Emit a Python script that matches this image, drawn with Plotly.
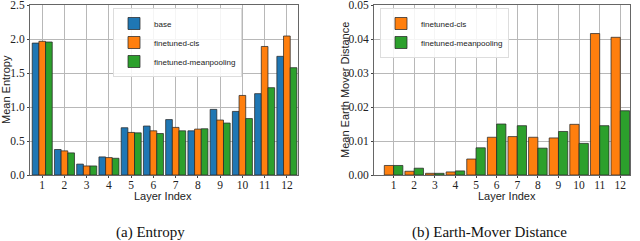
import plotly.graph_objects as go

layers = list(range(1, 13))
layer_labels = [str(i) for i in layers]

entropy_base = [1.94, 0.375, 0.16, 0.266, 0.695, 0.72, 0.815, 0.65, 0.965, 0.935, 1.196, 1.745]
entropy_cls = [1.966, 0.355, 0.133, 0.256, 0.626, 0.65, 0.70, 0.675, 0.808, 1.17, 1.89, 2.044]
entropy_mp = [1.956, 0.325, 0.133, 0.246, 0.62, 0.61, 0.65, 0.68, 0.764, 0.83, 1.284, 1.578]

emd_cls = [0.0028, 0.0011, 0.0005, 0.0009, 0.0047, 0.0111, 0.0113, 0.0111, 0.0109, 0.0149, 0.0416, 0.0405]
emd_mp = [0.0028, 0.0020, 0.0005, 0.0012, 0.0080, 0.0150, 0.0145, 0.0079, 0.0128, 0.0093, 0.0145, 0.0189]

entropy_ticks = [0.0, 0.5, 1.0, 1.5, 2.0, 2.5]
emd_ticks = [0.00, 0.01, 0.02, 0.03, 0.04, 0.05]

BLUE, ORANGE, GREEN = "#1f77b4", "#ff7f0e", "#2ca02c"
EDGE = dict(color="rgba(40,40,40,0.75)", width=1)
SERIF = "Liberation Serif"
SANS = "Liberation Sans"

fig = go.Figure()
fig.add_bar(x=layers, y=entropy_base, name="base", marker=dict(color=BLUE, line=EDGE),
            xaxis="x", yaxis="y", legend="legend")
fig.add_bar(x=layers, y=entropy_cls, name="finetuned-cls", marker=dict(color=ORANGE, line=EDGE),
            xaxis="x", yaxis="y", legend="legend")
fig.add_bar(x=layers, y=entropy_mp, name="finetuned-meanpooling", marker=dict(color=GREEN, line=EDGE),
            xaxis="x", yaxis="y", legend="legend")
fig.add_bar(x=layers, y=emd_cls, name="finetuned-cls", marker=dict(color=ORANGE, line=EDGE),
            xaxis="x2", yaxis="y2", legend="legend2")
fig.add_bar(x=layers, y=emd_mp, name="finetuned-meanpooling", marker=dict(color=GREEN, line=EDGE),
            xaxis="x2", yaxis="y2", legend="legend2")

axis_common = dict(showline=True, mirror=True, linecolor="#666", linewidth=1,
                   showgrid=True, gridcolor="#b8b8b8", gridwidth=1,
                   ticks="outside", ticklen=2, tickcolor="#444", automargin=False,
                   ticklabeloverflow="allow",
                   tickfont=dict(family=SERIF, size=11.5, color="#222"), zeroline=False)

ydom = [1 - 175 / 241, 1 - 5 / 241]
fig.update_layout(
    width=640, height=241, margin=dict(l=0, r=0, t=0, b=0, autoexpand=False),
    paper_bgcolor="white", plot_bgcolor="white",
    barmode="group", bargap=0.1,
    xaxis=dict(domain=[30 / 640, 298 / 640], range=[0.45, 12.5], tickvals=layers, ticktext=layer_labels,
               anchor="y", ticklabelstandoff=-3, **axis_common),
    yaxis=dict(domain=ydom, range=[0, 2.5], tickvals=entropy_ticks, tickformat=".1f",
               anchor="x", **axis_common),
    xaxis2=dict(domain=[374 / 640, 630 / 640], range=[0.05, 12.47], tickvals=layers, ticktext=layer_labels,
                anchor="y2", ticklabelstandoff=-3, **axis_common),
    yaxis2=dict(domain=ydom, range=[0, 0.05], tickvals=emd_ticks, tickformat=".2f",
                anchor="x2", **axis_common),
    legend=dict(x=113 / 640, y=1 - 8 / 241, xanchor="left", yanchor="top",
                font=dict(family=SANS, size=8, color="#222"), bgcolor="rgba(255,255,255,0.85)",
                bordercolor="#ddd", borderwidth=1, tracegroupgap=0),
    legend2=dict(x=380 / 640, y=1 - 8 / 241, xanchor="left", yanchor="top",
                 font=dict(family=SANS, size=8, color="#222"), bgcolor="rgba(255,255,255,0.85)",
                 bordercolor="#ddd", borderwidth=1, tracegroupgap=0),
    showlegend=True,
)

ann_font = dict(family=SANS, size=11, color="#222")
fig.add_annotation(text="Layer Index", x=163 / 640, y=1 - 196 / 241, xref="paper", yref="paper",
                   showarrow=False, font=ann_font, xanchor="center", yanchor="middle")
fig.add_annotation(text="Layer Index", x=507 / 640, y=1 - 196 / 241, xref="paper", yref="paper",
                   showarrow=False, font=ann_font, xanchor="center", yanchor="middle")
fig.add_annotation(text="Mean Entropy", x=6 / 640, y=1 - 90 / 241, xref="paper", yref="paper",
                   showarrow=False, font=ann_font, textangle=-90, xanchor="center", yanchor="middle")
fig.add_annotation(text="Mean Earth Mover Distance", x=345 / 640, y=1 - 90 / 241, xref="paper", yref="paper",
                   showarrow=False, font=ann_font, textangle=-90, xanchor="center", yanchor="middle")
cap_font = dict(family=SERIF, size=15, color="#111")
fig.add_annotation(text="(a) Entropy", x=150 / 640, y=1 - 232 / 241, xref="paper", yref="paper",
                   showarrow=False, font=cap_font, xanchor="center", yanchor="middle")
fig.add_annotation(text="(b) Earth-Mover Distance", x=489 / 640, y=1 - 232 / 241, xref="paper", yref="paper",
                   showarrow=False, font=cap_font, xanchor="center", yanchor="middle")

fig.write_html("out.html", config={"displayModeBar": False},
               post_script="document.body.style.margin='0';document.body.style.overflow='hidden';")
